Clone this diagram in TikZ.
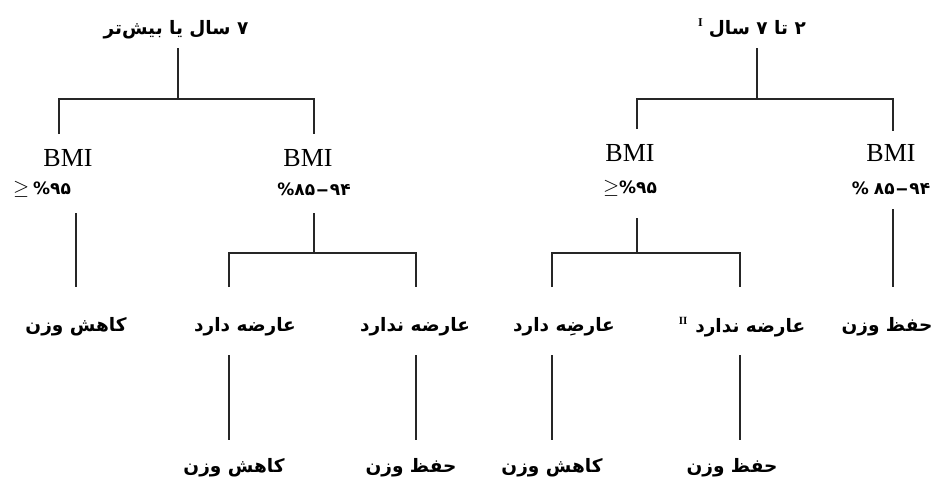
\documentclass[tikz,border=0pt]{standalone}
\usepackage{fontspec}
\usepackage{graphicx}
\setmainfont{Liberation Serif}
\newfontfamily\fa[Script=Arabic]{DejaVu Sans}
\TeXXeTstate=1
\newcommand{\geqsign}{\raisebox{0pt}{\rmfamily\mdseries\fontsize{22}{24}\selectfont$\geq$}}
\newcommand{\longdash}{\mbox{\hspace{1pt}\scalebox{1.5}[1]{–}\hspace{1pt}}}
\begin{document}
\begin{tikzpicture}[x=1pt,y=-1pt,
  fatxt/.style={font=\fa\bfseries\fontsize{18.5}{22}\selectfont, inner sep=0pt},
  bmi/.style={font=\fontsize{26}{30}\selectfont, inner sep=0pt},
  pct/.style={font=\fa\bfseries\fontsize{17}{20}\selectfont, inner sep=0pt},
  ln/.style={line width=1.2pt, draw=black!85}]
\useasboundingbox (0,0) rectangle (937,485);
% ---- texts ----
\node[fatxt] (tl) at (176,30) {\beginR ۷ سال یا بیش‌تر\endR};
\node[fatxt] (tr) at (752,28) {\beginR ۲ تا ۷ سال\hspace{6pt}\raisebox{8pt}{\rmfamily\bfseries\fontsize{12}{13}\selectfont I}\endR};
\node[bmi] (b1) at (68,158) {BMI};
\node[pct] (p1) at (42,189) {\geqsign\hspace{4pt}\mbox{\%۹۵}};
\node[bmi] (b2) at (308,158) {BMI};
\node[pct] (p2) at (314,189) {\mbox{\%۸۵}\longdash\mbox{۹۴}};
\node[bmi] (b3) at (630,153) {BMI};
\node[pct] (p3) at (630,188) {\geqsign\mbox{\%۹۵}};
\node[bmi] (b4) at (891,153) {BMI};
\node[pct] (p4) at (891,188) {\mbox{\%}\hspace{5pt}\mbox{۸۵}\longdash\mbox{۹۴}};
\node[fatxt] (m1) at (76,327) {\beginR کاهش وزن\endR};
\node[fatxt] (m2) at (245,327) {\beginR عارضه دارد\endR};
\node[fatxt] (m3) at (415,327) {\beginR عارضه ندارد\endR};
\node[fatxt] (m4) at (564,327) {\beginR عارضِه دارد\endR};
\node[fatxt] (m5) at (742,327) {\beginR عارضه ندارد\hspace{8pt}\raisebox{8pt}{\rmfamily\bfseries\fontsize{11}{12}\selectfont II}\endR};
\node[fatxt] (m6) at (887,327) {\beginR حفظ وزن\endR};
\node[fatxt] (d1) at (234,468) {\beginR کاهش وزن\endR};
\node[fatxt] (d2) at (411,468) {\beginR حفظ وزن\endR};
\node[fatxt] (d3) at (552,468) {\beginR کاهش وزن\endR};
\node[fatxt] (d4) at (732,468) {\beginR حفظ وزن\endR};
% ---- junction points ----
\coordinate (tlb) at (178,48);  \coordinate (jl) at (178,99);
\coordinate (b1t) at (59,134);  \coordinate (b2t) at (314,134);
\coordinate (p1b) at (76,213);  \coordinate (m1t) at (76,287);
\coordinate (p2b) at (314,213); \coordinate (jl2) at (314,253);
\coordinate (m2t) at (229,287); \coordinate (m3t) at (416,287);
\coordinate (m2b) at (229,355); \coordinate (d1t) at (229,440);
\coordinate (m3b) at (416,355); \coordinate (d2t) at (416,440);
\coordinate (trb) at (757,48);  \coordinate (jr) at (757,99);
\coordinate (b3t) at (637,129); \coordinate (b4t) at (893,131);
\coordinate (p3b) at (637,218); \coordinate (jr2) at (637,253);
\coordinate (m4t) at (552,287); \coordinate (m5t) at (740,287);
\coordinate (p4b) at (893,209); \coordinate (m6t) at (893,287);
\coordinate (m4b) at (552,355); \coordinate (d3t) at (552,440);
\coordinate (m5b) at (740,355); \coordinate (d4t) at (740,440);
% ---- connectors ----
\draw[ln] (tlb) -- (jl);
\draw[ln] (b1t) |- (jl) -| (b2t);
\draw[ln] (p1b) -- (m1t);
\draw[ln] (p2b) -- (jl2);
\draw[ln] (m2t) |- (jl2) -| (m3t);
\draw[ln] (m2b) -- (d1t);
\draw[ln] (m3b) -- (d2t);
\draw[ln] (trb) -- (jr);
\draw[ln] (b3t) |- (jr) -| (b4t);
\draw[ln] (p3b) -- (jr2);
\draw[ln] (m4t) |- (jr2) -| (m5t);
\draw[ln] (p4b) -- (m6t);
\draw[ln] (m4b) -- (d3t);
\draw[ln] (m5b) -- (d4t);
\end{tikzpicture}
\end{document}
